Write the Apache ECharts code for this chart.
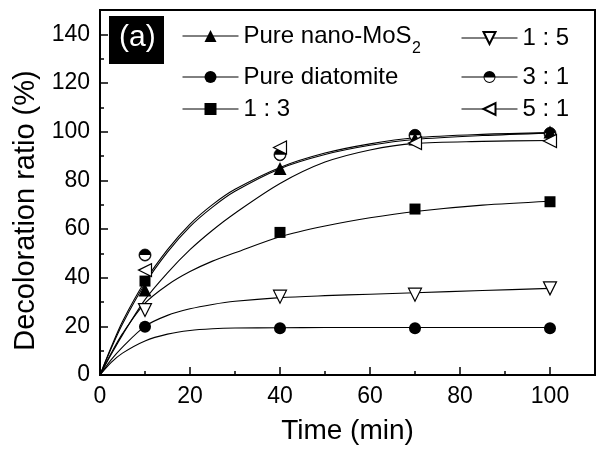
<!DOCTYPE html>
<html><head><meta charset="utf-8">
<script src="https://cdn.jsdelivr.net/npm/echarts@6/dist/echarts.min.js"></script>
<style>html,body{margin:0;padding:0;background:#fff}#c{width:596px;height:450px}</style>
</head><body><div id="c"></div>
<script>
// measured points
const sampleTimes = [10, 40, 70, 100];
const pureMoS2 = [34.9, 84.9, 97.0, 99.9];
const pureDiatomite = [19.8, 19.2, 19.2, 19.2];
const ratio13 = [38.6, 58.6, 68.2, 71.2];
const ratio15 = [26.7, 32.2, 33.0, 35.6];
const ratio31 = [49.3, 90.5, 98.5, 99.3];
const ratio51 = [43.1, 93.5, 95.3, 96.2];

// fitted curves
const fitTimes = [0, 2.5, 5, 10, 15, 20, 25, 30, 40, 50, 60, 70, 85, 100];
const fitMoS2 = [0, 11.0, 21.0, 37.5, 50.5, 61.0, 69.0, 75.5, 84.8, 90.6, 94.4, 96.8, 98.4, 99.4];
const fitDiatomite = [0, 5.2, 9.0, 14.0, 16.8, 18.3, 19.0, 19.3, 19.4, 19.5, 19.5, 19.5, 19.5, 19.5];
const fit13 = [0, 9.0, 17.0, 29.5, 37.0, 42.5, 46.8, 50.2, 56.8, 61.2, 64.6, 67.2, 69.8, 71.4];
const fit15 = [0, 6.3, 11.5, 20.0, 24.5, 27.2, 29.0, 30.3, 31.8, 32.6, 33.2, 33.8, 34.7, 35.6];
const fit31 = [0, 11.5, 22.0, 38.5, 51.5, 62.0, 70.0, 76.3, 85.3, 91.2, 95.0, 97.5, 98.9, 99.6];
const fit51 = [0, 8.5, 16.5, 31.0, 42.0, 51.5, 59.5, 66.5, 78.7, 87.5, 92.5, 95.2, 96.0, 96.4];

const seriesNames = ['Pure nano-MoS2', 'Pure diatomite', '1 : 3', '1 : 5', '3 : 1', '5 : 1'];
const xLabelStep = 20, yLabelStep = 20;

const FONT = '"Liberation Sans", Arial, Helvetica, sans-serif';
const halfCircle = 'path://M0,10 A10,10 0 0 1 20,10 Z M0,10 A10,10 0 0 0 20,10 L18.4,10 A8.4,8.4 0 0 1 1.6,10 Z';

const groups = [
  {name: seriesNames[0], pts: pureMoS2, fit: fitMoS2, symbol: 'triangle', size: 13, rot: 0, fill: '#000'},
  {name: seriesNames[1], pts: pureDiatomite, fit: fitDiatomite, symbol: 'circle', size: 12, rot: 0, fill: '#000'},
  {name: seriesNames[2], pts: ratio13, fit: fit13, symbol: 'rect', size: 11, rot: 0, fill: '#000'},
  {name: seriesNames[3], pts: ratio15, fit: fit15, symbol: 'triangle', size: 13, rot: 180, fill: '#fff'},
  {name: seriesNames[4], pts: ratio31, fit: fit31, symbol: halfCircle, size: 12, rot: 0, fill: '#000'},
  {name: seriesNames[5], pts: ratio51, fit: fit51, symbol: 'triangle', size: 13, rot: 90, fill: '#fff'}
];

const series = [];
groups.forEach(g => {
  series.push({
    name: g.name, type: 'line', data: fitTimes.map((t, i) => [t, g.fit[i]]),
    symbol: g.symbol, symbolSize: g.size, symbolRotate: g.rot, showSymbol: false,
    smooth: 0.3,
    lineStyle: {color: '#000', width: 1.1},
    itemStyle: {color: g.fill, borderColor: '#000', borderWidth: g.fill === '#fff' ? 1.2 : 0},
    z: 2, silent: true, animation: false
  });
});
// white under-disc for half-filled marker
series.push({
  name: '3:1 base', type: 'scatter', data: sampleTimes.map((t, i) => [t, ratio31[i]]),
  symbol: 'circle', symbolSize: 12, itemStyle: {color: '#fff', borderColor: '#000', borderWidth: 1},
  z: 4, silent: true, animation: false
});
groups.forEach(g => {
  series.push({
    name: g.name + ' pts', type: 'scatter', data: sampleTimes.map((t, i) => [t, g.pts[i]]),
    symbol: g.symbol, symbolSize: g.size, symbolRotate: g.rot,
    itemStyle: {color: g.fill, borderColor: '#000', borderWidth: g.fill === '#fff' ? 1.2 : 0, opacity: 1},
    z: 5, silent: true, animation: false
  });
});

const LEG_FONT = 24, LEG_W = 56;
const legendPos = [
  {left: 182, top: 24}, {left: 182, top: 65}, {left: 182, top: 97},
  {left: 461, top: 26}, {left: 461, top: 65}, {left: 461, top: 97}
];
const legends = seriesNames.map((n, i) => ({
  data: [n], left: legendPos[i].left, top: legendPos[i].top, padding: 0,
  itemWidth: LEG_W, itemHeight: 15, selectedMode: false,
  lineStyle: {width: 1, color: '#000'},
  formatter: name => name === 'Pure nano-MoS2' ? 'Pure nano-MoS' : name,
  textStyle: {fontFamily: FONT, fontSize: LEG_FONT, color: '#000'}
}));

// place the subscript right after the measured legend text
const ctx = document.createElement('canvas').getContext('2d');
ctx.font = LEG_FONT + 'px ' + FONT;
const subX = legendPos[0].left + LEG_W + 5 + ctx.measureText('Pure nano-MoS').width + 1;

const axisLabelStyle = {fontFamily: FONT, fontSize: 23, color: '#000'};

const option = {
  backgroundColor: '#fff',
  animation: false,
  grid: {left: 100, right: 1, top: 10, bottom: 75, show: true, borderColor: '#000', borderWidth: 2, outerBoundsMode: 'none'},
  legend: legends,
  xAxis: [
    {type: 'value', min: 0, max: 110, interval: 10, position: 'bottom',
     axisLine: {show: true, onZero: false, lineStyle: {color: '#000', width: 2}},
     axisTick: {show: true, inside: true, length: 4, lineStyle: {color: '#000', width: 1.5}},
     axisLabel: {...axisLabelStyle, margin: 10, formatter: v => (v % xLabelStep === 0 && v <= 100) ? String(v) : ''},
     splitLine: {show: false},
     name: 'Time (min)', nameLocation: 'middle', nameGap: 42,
     nameTextStyle: {fontFamily: FONT, fontSize: 28, color: '#000'}},
    {type: 'value', min: 0, max: 110, interval: 20, position: 'bottom', gridIndex: 0,
     axisLine: {show: false, onZero: false},
     axisTick: {show: true, inside: true, length: 8, lineStyle: {color: '#000', width: 1.5}},
     axisLabel: {show: false}, splitLine: {show: false}}
  ],
  yAxis: [
    {type: 'value', min: 0, max: 150, interval: 10, position: 'left',
     axisLine: {show: true, onZero: false, lineStyle: {color: '#000', width: 2}},
     axisTick: {show: true, inside: true, length: 4, lineStyle: {color: '#000', width: 1.5}},
     axisLabel: {...axisLabelStyle, margin: 10, formatter: v => (v % yLabelStep === 0 && v <= 140) ? String(v) : ''},
     splitLine: {show: false},
     name: 'Decoloration ratio (%)', nameLocation: 'middle', nameGap: 58,
     nameTextStyle: {fontFamily: FONT, fontSize: 29, color: '#000', padding: [0, 36, 0, 0]}},
    {type: 'value', min: 0, max: 150, interval: 20, position: 'left', gridIndex: 0,
     axisLine: {show: false, onZero: false},
     axisTick: {show: true, inside: true, length: 8, lineStyle: {color: '#000', width: 1.5}},
     axisLabel: {show: false}, splitLine: {show: false}}
  ],
  graphic: [
    {type: 'rect', left: 109, top: 16, shape: {width: 55, height: 48}, style: {fill: '#000'}, z: 10},
    {type: 'text', left: 119, top: 23, style: {text: '(a)', fill: '#fff', font: '30px ' + FONT}, z: 11},
    {type: 'text', left: subX, top: 41, style: {text: '2', fill: '#000', font: '16px ' + FONT}, z: 11}
  ],
  series: series
};
const chart = echarts.init(document.getElementById('c'), null, {renderer: 'canvas'});
chart.setOption(option);
</script>
</body></html>
